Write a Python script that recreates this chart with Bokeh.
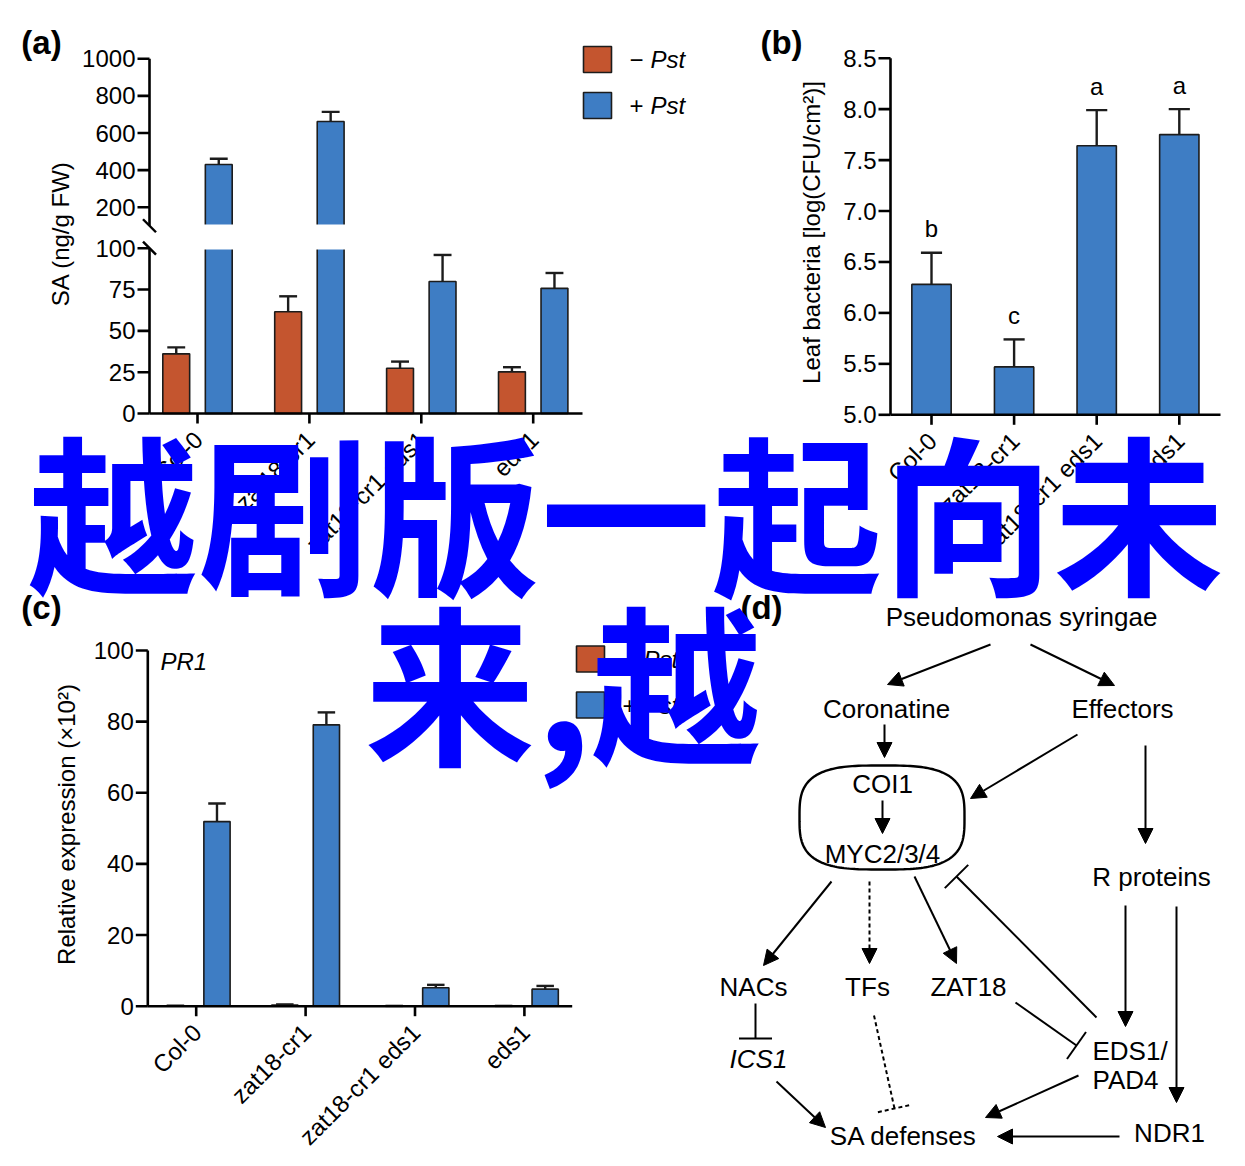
import numpy as np
from bokeh.plotting import figure
from bokeh.models import Range1d, Arrow, NormalHead, TeeHead
from bokeh.core.properties import value
from bokeh.embed import file_html
from bokeh.resources import INLINE

# ---------------- data ----------------
genotypes = ["Col-0", "zat18-cr1", "zat18-cr1 eds1", "eds1"]
treatments = ["\u2212", "+"]          # -Pst / +Pst

# (a) SA content, ng/g FW
sa_mock = [36.1, 61.6, 27.4, 25.2]
sa_mock_err = [3.9, 9.3, 4.0, 2.8]
sa_pst = [430.0, 662.0, 79.9, 75.7]
sa_pst_err = [31.0, 52.0, 16.0, 9.3]
sa_ticks_low = [0, 25, 50, 75, 100]
sa_ticks_high = [200, 400, 600, 800, 1000]

# (b) leaf bacteria, log(CFU/cm2)
bact = [6.28, 5.47, 7.64, 7.75]
bact_err = [0.31, 0.27, 0.35, 0.25]
bact_letters = ["b", "c", "a", "a"]
bact_ticks = [5.0, 5.5, 6.0, 6.5, 7.0, 7.5, 8.0, 8.5]

# (c) PR1 relative expression (x10^2)
pr1_mock = [0.1, 0.35, 0.05, 0.05]
pr1_mock_err = [0.05, 0.15, 0.03, 0.03]
pr1_pst = [51.9, 79.1, 5.2, 4.8]
pr1_pst_err = [5.1, 3.5, 0.8, 0.9]
pr1_ticks = [0, 20, 40, 60, 80, 100]

overlay_lines = ["越剧版一起向未", "来,越"]

# ---------------- canvas ----------------
W, H = 1229, 1150
X0, Y0 = 0, 0
FONT = value("Liberation Sans")
RED = "#C4552F"
BLUE = "#3E7DC4"
EDGE = "#1c1c1c"
TICK_FS = "24px"

p = figure(width=W, height=H, x_range=Range1d(X0, X0 + W), y_range=Range1d(Y0 + H, Y0),
           x_axis_type=None, y_axis_type=None, toolbar_location=None,
           output_backend="svg", min_border=0, outline_line_color=None)
p.background_fill_color = "white"
p.border_fill_color = "white"

xr, yr = {}, {}


def lin(px_a, v_a, px_b, v_b, lo, hi):
    s = (v_b - v_a) / (px_b - px_a)
    return Range1d(start=v_a + (lo - px_a) * s, end=v_a + (hi - px_a) * s)


def px_of(v, px_a, v_a, px_b, v_b):
    return px_a + (v - v_a) * (px_b - px_a) / (v_b - v_a)


# panel geometry (pixels)
A_T0, A_ST, A_AXX, A_XEND, A_BASE, A_L100 = 197.0, 111.9, 149.0, 582.0, 413.0, 247.7
A_H200, A_H1000 = 206.7, 58.3
B_T0, B_ST, B_AXX, B_XEND, B_BASE, B_TOP = 931.0, 82.6, 890.0, 1220.0, 414.3, 57.7
C_T0, C_ST, C_AXX, C_XEND, C_BASE, C_100 = 195.7, 109.4, 147.3, 571.7, 1005.7, 650.0

xr["ax"] = lin(A_T0, 0, A_T0 + A_ST, 1, X0, X0 + W)
yr["alo"] = lin(A_BASE, 0, A_L100, 100, Y0 + H, Y0)
yr["ahi"] = lin(A_H200, 200, A_H1000, 1000, Y0 + H, Y0)
xr["bx"] = lin(B_T0, 0, B_T0 + B_ST, 1, X0, X0 + W)
yr["by"] = lin(B_BASE, 5.0, B_TOP, 8.5, Y0 + H, Y0)
xr["cx"] = lin(C_T0, 0, C_T0 + C_ST, 1, X0, X0 + W)
yr["cy"] = lin(C_BASE, 0, C_100, 100, Y0 + H, Y0)
p.extra_x_ranges = xr
p.extra_y_ranges = yr

idx = np.arange(len(genotypes), dtype=float)


def text(x, y, t, size=TICK_FS, align="center", baseline="middle", angle=0.0,
         style="normal", color="black", font=FONT, **kw):
    p.text(x=x, y=y, text=t, text_font=font, text_font_size=size, text_align=align,
           text_baseline=baseline, angle=angle, text_font_style=style, text_color=color, **kw)


def bars(xn, yn, xs, bottom, tops, width, color):
    p.vbar(x=xs, width=width, bottom=bottom, top=tops, fill_color=color,
           line_color=EDGE, line_width=1.6, x_range_name=xn, y_range_name=yn)


def errbars(xn, yn, xs, tops, errs, cap):
    xs = np.asarray(xs, float)
    tops = np.asarray(tops, float)
    ys = tops + np.asarray(errs, float)
    p.segment(x0=xs, y0=tops, x1=xs, y1=ys, line_color=EDGE, line_width=2.4,
              x_range_name=xn, y_range_name=yn)
    p.segment(x0=xs - cap, y0=ys, x1=xs + cap, y1=ys, line_color=EDGE, line_width=2.4,
              x_range_name=xn, y_range_name=yn)


def xaxis(xn, yn, base_val, base_px, t0, st, axx, xend, labels):
    p.segment(x0=[(axx - t0) / st], y0=[base_val], x1=[(xend - t0) / st], y1=[base_val],
              line_color="black", line_width=2.6, x_range_name=xn, y_range_name=yn)
    p.segment(x0=idx, y0=base_px, x1=idx, y1=base_px + 10, line_color="black",
              line_width=2.6, x_range_name=xn)
    text(idx + 1.0 / st, [base_px + 22] * len(idx), labels, align="right",
         baseline="middle", angle=np.pi / 4, x_range_name=xn)


def yticks(yn, axx, ticks, labels):
    p.segment(x0=axx - 12, y0=ticks, x1=axx, y1=ticks, line_color="black",
              line_width=2.6, y_range_name=yn)
    text([axx - 14] * len(ticks), ticks, labels, align="right", y_range_name=yn)


def legend(x_sq, y_sq):
    for i, col in enumerate([RED, BLUE]):
        yc = y_sq + i * 46
        p.rect(x=[x_sq], y=[yc], width=28, height=26, fill_color=col, line_color=EDGE,
               line_width=1.6)
        text([x_sq + 32], [yc], [treatments[i]], align="left")
        text([x_sq + 53], [yc], ["Pst"], align="left", style="italic")


# ---------------- (a) ----------------
mock = np.array(sa_mock)
pst = np.array(sa_pst)
DW, OFF = 0.24, 0.19
bars("ax", "alo", idx - OFF, 0, mock, DW, RED)
errbars("ax", "alo", idx - OFF, mock, sa_mock_err, 0.08)
bars("ax", "alo", idx + OFF, 0, np.minimum(pst, 100), DW, BLUE)
hi = pst > 100
bars("ax", "ahi", (idx + OFF)[hi], 100, pst[hi], DW, BLUE)
errbars("ax", "ahi", (idx + OFF)[hi], pst[hi], np.array(sa_pst_err)[hi], 0.08)
errbars("ax", "alo", (idx + OFF)[~hi], pst[~hi], np.array(sa_pst_err)[~hi], 0.08)
brk_hi = px_of(100, A_H200, 200, A_H1000, 1000)
p.quad(left=[A_AXX + 1.5], right=[A_XEND], top=[brk_hi - 1.3], bottom=[A_L100 + 1.3],
       fill_color="white", line_color=None)
p.segment(x0=[A_AXX], y0=[0], x1=[A_AXX], y1=[100], line_color="black", line_width=2.6,
          y_range_name="alo")
p.segment(x0=[A_AXX], y0=[100], x1=[A_AXX], y1=[1000], line_color="black", line_width=2.6,
          y_range_name="ahi")
for cy in (brk_hi, A_L100):
    p.segment(x0=[A_AXX - 6.5], y0=[cy - 6.5], x1=[A_AXX + 6.5], y1=[cy + 6.5],
              line_color="black", line_width=2.4)
yticks("alo", A_AXX, sa_ticks_low, [str(t) for t in sa_ticks_low])
yticks("ahi", A_AXX, sa_ticks_high, [str(t) for t in sa_ticks_high])
xaxis("ax", "alo", 0, A_BASE, A_T0, A_ST, A_AXX, A_XEND, genotypes)
text([60], [233], ["SA (ng/g FW)"], angle=np.pi / 2)
legend(597, 59)
text([41], [42], ["(a)"], size="33px", style="bold")

# ---------------- (b) ----------------
b = np.array(bact)
be = np.array(bact_err)
bars("bx", "by", idx, 5.0, b, 0.476, BLUE)
errbars("bx", "by", idx, b, be, 0.128)
ppu_b = (B_BASE - B_TOP) / 3.5
text(idx, b + be + 24.0 / ppu_b, bact_letters, baseline="middle",
     x_range_name="bx", y_range_name="by")
p.segment(x0=[B_AXX], y0=[5.0], x1=[B_AXX], y1=[8.5], line_color="black", line_width=2.6,
          y_range_name="by")
yticks("by", B_AXX, bact_ticks, ["%.1f" % t for t in bact_ticks])
xaxis("bx", "by", 5.0, B_BASE, B_T0, B_ST, B_AXX, B_XEND, genotypes)
text([811], [232], ["Leaf bacteria [log(CFU/cm\u00b2)]"], angle=np.pi / 2)
text([781], [42], ["(b)"], size="33px", style="bold")

# ---------------- (c) ----------------
cm = np.array(pr1_mock)
cp = np.array(pr1_pst)
bars("cx", "cy", idx - OFF, 0, cm, DW, RED)
errbars("cx", "cy", idx - OFF, cm, pr1_mock_err, 0.08)
bars("cx", "cy", idx + OFF, 0, cp, DW, BLUE)
errbars("cx", "cy", idx + OFF, cp, pr1_pst_err, 0.08)
p.segment(x0=[C_AXX], y0=[0], x1=[C_AXX], y1=[100], line_color="black", line_width=2.6,
          y_range_name="cy")
yticks("cy", C_AXX, pr1_ticks, [str(t) for t in pr1_ticks])
xaxis("cx", "cy", 0, C_BASE, C_T0, C_ST, C_AXX, C_XEND, genotypes)
text([66], [824], ["Relative expression (\u00d710\u00b2)"], angle=np.pi / 2)
text([160], [661], ["PR1"], align="left", style="italic")
legend(590, 658.5)
text([41], [607], ["(c)"], size="33px", style="bold")

# ---------------- (d) diagram ----------------
text([761], [607], ["(d)"], size="33px", style="bold")
DFS = "26px"
nodes = [("Pseudomonas syringae", 1021, 616), ("Coronatine", 886, 708),
         ("Effectors", 1122, 708), ("COI1", 882, 783), ("MYC2/3/4", 882, 853),
         ("R proteins", 1151, 876), ("NACs", 753, 986), ("TFs", 867, 986),
         ("ZAT18", 968, 986), ("SA defenses", 903, 1135), ("NDR1", 1169, 1132)]
text([n[1] for n in nodes], [n[2] for n in nodes], [n[0] for n in nodes], size=DFS)
text([758], [1058], ["ICS1"], size=DFS, style="italic")
text([1092, 1092], [1050, 1079], ["EDS1/", "PAD4"], size=DFS, align="left")

t = np.linspace(0, 2 * np.pi, 200)
nexp = 2.0 / 3.2
bx_ = 881.5 + 82.5 * np.sign(np.cos(t)) * np.abs(np.cos(t)) ** nexp
by_ = 817.0 + 52.0 * np.sign(np.sin(t)) * np.abs(np.sin(t)) ** nexp
p.line(bx_, by_, line_color="black", line_width=2.4)

arrows = [((990, 644), (887, 684)), ((1030, 644), (1114, 685)), ((884, 724), (884, 757)),
          ((882, 800), (882, 833)), ((1077, 734), (970, 798)), ((1145, 745), (1145, 843)),
          ((831, 881), (763, 965)), ((914, 876), (956, 963)), ((1125, 905), (1125, 1026)),
          ((1176, 906), (1176, 1102)), ((776, 1081), (825, 1127)),
          ((1078, 1075), (985, 1117)), ((1119, 1136), (997, 1136))]
for (xa, ya), (xb, yb) in arrows:
    p.add_layout(Arrow(x_start=xa, y_start=ya, x_end=xb, y_end=yb, line_width=2,
                       end=NormalHead(size=15, fill_color="black", line_color="black")))
p.add_layout(Arrow(x_start=869, y_start=881, x_end=869, y_end=963, line_width=2,
                   line_dash="4 3",
                   end=NormalHead(size=15, fill_color="black", line_color="black")))
tees = [((1096, 1017), (956, 876)), ((755, 1003), (755, 1038)), ((1015, 1002), (1076, 1045))]
for (xa, ya), (xb, yb) in tees:
    p.add_layout(Arrow(x_start=xa, y_start=ya, x_end=xb, y_end=yb, line_width=2,
                       end=TeeHead(size=33, line_width=2)))
p.add_layout(Arrow(x_start=873.5, y_start=1015, x_end=894, y_end=1108, line_width=2,
                   line_dash="4 3", end=TeeHead(size=34, line_width=2, line_dash="4 3")))

# ---------------- overlay ----------------
CJK = value("Noto Sans CJK SC")
text([27], [507], [overlay_lines[0]], size="171px", align="left", style="bold",
     color="#0000FF", font=CJK)
text([364], [677], [overlay_lines[1]], size="171px", align="left", style="bold",
     color="#0000FF", font=CJK)

open("out.html", "w").write(file_html(p, INLINE))
